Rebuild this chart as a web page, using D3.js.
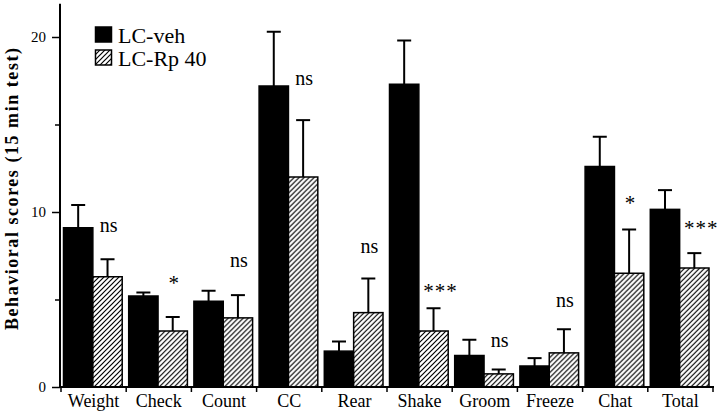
<!DOCTYPE html>
<html>
<head>
<meta charset="utf-8">
<script src="https://cdn.jsdelivr.net/npm/d3@7"></script>
<style>
  html, body { margin: 0; padding: 0; background: #fff; }
  svg { display: block; }
  svg text { font-family: "Liberation Serif", "Times New Roman", serif; fill: #000; }
</style>
</head>
<body>
<svg id="chart" width="720" height="411"></svg>
<script>
// ---- data ----
const categories = ["Weight", "Check", "Count", "CC", "Rear", "Shake", "Groom", "Freeze", "Chat", "Total"];
const seriesNames = ["LC-veh", "LC-Rp 40"];
const vehMeans = [9.1, 5.2, 4.9, 17.2, 2.05, 17.3, 1.8, 1.2, 12.6, 10.15];
const vehErrTop = [10.4, 5.4, 5.5, 20.3, 2.6, 19.8, 2.7, 1.65, 14.3, 11.25];
const rpMeans = [6.3, 3.2, 3.95, 12.0, 4.25, 3.2, 0.75, 1.95, 6.5, 6.8];
const rpErrTop = [7.3, 4.0, 5.25, 15.25, 6.2, 4.5, 1.0, 3.3, 9.0, 7.65];
const sigLabels = ["ns", "*", "ns", "ns", "ns", "***", "ns", "ns", "*", "***"];
const sigLevels = [9.15, 6.1, 7.15, 17.55, 7.95, 5.65, 2.6, 4.85, 10.7, 9.25];
const majorTicks = [0, 10, 20];
const minorTicks = [5, 15];
const yTitle = "Behavioral scores (15 min test)";

// ---- layout ----
const svg = d3.select("#chart");
const yMax = 21.9;
const y = d3.scaleLinear().domain([0, yMax]).range([387, 387 - yMax * 17.5]);
const x = d3.scaleBand().domain(categories).range([61, 713]).padding(0);
const bw = x.bandwidth();
const xs = d3.scaleBand().domain(seriesNames).range([2.5, bw - 4]).padding(0);

// hatch pattern
const defs = svg.append("defs");
const pat = defs.append("pattern")
  .attr("id", "hatch").attr("patternUnits", "userSpaceOnUse")
  .attr("width", 5).attr("height", 5);
pat.append("rect").attr("width", 5).attr("height", 5).attr("fill", "#fff");
pat.append("path")
  .attr("d", "M0,5 L5,0 M-1,1 L1,-1 M4,6 L6,4")
  .attr("stroke", "#000").attr("stroke-width", 1.2);

// ---- bars ----
const rows = categories.map((c, i) => ({
  c, veh: vehMeans[i], vehE: vehErrTop[i], rp: rpMeans[i], rpE: rpErrTop[i],
  sig: sigLabels[i], lvl: sigLevels[i]
}));

const g = svg.append("g");
const grp = g.selectAll("g.grp").data(rows).join("g").attr("class", "grp")
  .attr("transform", d => `translate(${x(d.c)},0)`);

function errBar(sel, key, keyE, sName) {
  const cx = xs(sName) + xs.bandwidth() / 2;
  sel.append("line")
    .attr("x1", cx).attr("x2", cx)
    .attr("y1", d => y(d[key])).attr("y2", d => y(d[keyE]))
    .attr("stroke", "#000").attr("stroke-width", 2);
  sel.append("line")
    .attr("x1", cx - 7).attr("x2", cx + 7)
    .attr("y1", d => y(d[keyE])).attr("y2", d => y(d[keyE]))
    .attr("stroke", "#000").attr("stroke-width", 2);
}
errBar(grp, "veh", "vehE", seriesNames[0]);
errBar(grp, "rp", "rpE", seriesNames[1]);

grp.append("rect")
  .attr("x", xs(seriesNames[0])).attr("width", xs.bandwidth())
  .attr("y", d => y(d.veh)).attr("height", d => y(0) - y(d.veh))
  .attr("fill", "#000").attr("stroke", "#000").attr("stroke-width", 1.5);
grp.append("rect")
  .attr("x", xs(seriesNames[1])).attr("width", xs.bandwidth())
  .attr("y", d => y(d.rp)).attr("height", d => y(0) - y(d.rp))
  .attr("fill", "url(#hatch)").attr("stroke", "#000").attr("stroke-width", 1.5);

// significance labels
grp.append("text")
  .attr("x", d => xs(seriesNames[1]) + xs.bandwidth() / 2 + (d.sig === "***" ? 7 : 1))
  .attr("y", d => y(d.lvl) + (d.sig === "ns" ? 5 : 10))
  .attr("text-anchor", "middle")
  .attr("font-size", d => d.sig === "ns" ? 20 : 21)
  .attr("letter-spacing", d => d.sig === "***" ? 1 : 0)
  .text(d => d.sig);

// ---- y axis ----
const yAxis = d3.axisLeft(y).tickValues(majorTicks).tickSize(8).tickPadding(6)
  .tickFormat(d3.format("d"));
const ya = svg.append("g").attr("transform", "translate(60,0)").call(yAxis);
ya.attr("font-family", null);
ya.select(".domain").remove();
ya.selectAll(".tick line").attr("stroke-width", 1.5);
ya.selectAll(".tick text").attr("font-size", 15);
const yMinor = d3.axisLeft(y).tickValues(minorTicks).tickSize(5).tickFormat("");
const ym = svg.append("g").attr("transform", "translate(60,0)").call(yMinor);
ym.select(".domain").remove();
ym.selectAll(".tick line").attr("stroke-width", 1.5);
svg.append("line")
  .attr("x1", 60).attr("x2", 60).attr("y1", y(yMax)).attr("y2", y(0) + 1)
  .attr("stroke", "#000").attr("stroke-width", 2);

// ---- x axis ----
const xAxis = d3.axisBottom(x).tickSize(0).tickPadding(7);
const xa = svg.append("g").attr("transform", `translate(0,${y(0)})`).call(xAxis);
xa.attr("font-family", null);
xa.select(".domain").remove();
xa.selectAll(".tick text").attr("font-size", 18);
svg.append("line")
  .attr("x1", 60).attr("x2", x.range()[1] + 1).attr("y1", y(0)).attr("y2", y(0))
  .attr("stroke", "#000").attr("stroke-width", 2);
const bounds = categories.map(c => x(c)).concat([x.range()[1]]);
svg.append("g").selectAll("line").data(bounds).join("line")
  .attr("x1", d => d).attr("x2", d => d)
  .attr("y1", y(0)).attr("y2", y(0) + 5)
  .attr("stroke", "#000").attr("stroke-width", 1.5);

// ---- y title ----
svg.append("text")
  .attr("transform", `translate(18,${189}) rotate(-90)`)
  .attr("text-anchor", "middle")
  .attr("font-size", 18).attr("font-weight", "bold")
  .attr("textLength", 282).attr("lengthAdjust", "spacing")
  .text(yTitle);

// ---- legend ----
const legend = svg.append("g");
const fills = ["#000", "url(#hatch)"];
seriesNames.forEach((s, i) => {
  const ly = 27 + i * 23;
  legend.append("rect").attr("x", 95.5).attr("y", ly).attr("width", 16).attr("height", 15)
    .attr("fill", fills[i]).attr("stroke", "#000").attr("stroke-width", 1.5);
  legend.append("text").attr("x", 118).attr("y", ly + 16)
    .attr("font-size", 22).text(s);
});
</script>
</body>
</html>
